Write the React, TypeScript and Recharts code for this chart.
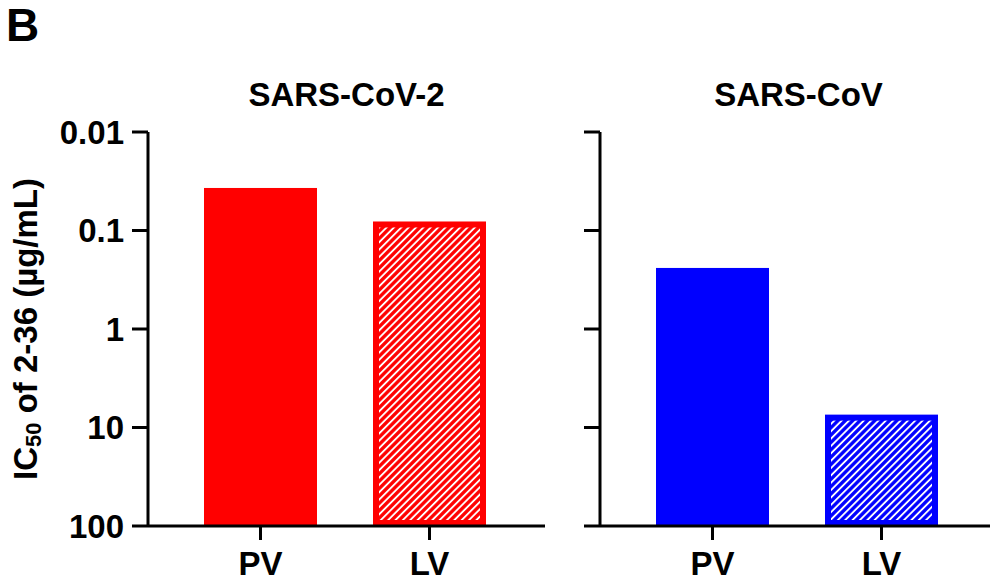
import { BarChart, Bar, XAxis, YAxis, Label } from "recharts";

const categories = ["PV", "LV"];
const hatchedCategories = ["LV"];
const sarsCov2Ic50 = [0.037, 0.081];
const sarsCovIc50 = [0.24, 7.4];
const yTicks = [0.01, 0.1, 1, 10, 100];
const yDomain: [number, number] = [0.01, 100];
const BAR_FLOOR = 100; // bars grow up from the bottom of the reversed log axis

const FONT = "Arial, 'Liberation Sans', Helvetica, sans-serif";
const RED = "#ff0000";
const BLUE = "#0000ff";

const tickStyle = { fill: "#000", fontSize: 33, fontWeight: 700, fontFamily: FONT };

function toRows(values: number[]) {
  return categories.map((name, i) => ({
    name,
    value: values[i],
    hatched: hatchedCategories.includes(name),
  }));
}

function BarShape(props: any) {
  const { x, y, width, height, color, payload } = props;
  const top = Math.min(y, y + height);
  const h = Math.abs(height);
  if (!payload.hatched) {
    return <rect x={x} y={top} width={width} height={h} fill={color} />;
  }
  const id = `hatch-${color.replace("#", "")}`;
  const inset = 6;
  const step = 5.2;
  return (
    <g>
      <defs>
        <pattern
          id={id}
          patternUnits="userSpaceOnUse"
          width={step}
          height={step}
          patternTransform="rotate(45)"
        >
          <rect width={step} height={step} fill={color} />
          <line x1={step / 2} y1={0} x2={step / 2} y2={step} stroke="#fff" strokeWidth={1.9} />
        </pattern>
      </defs>
      <rect x={x} y={top} width={width} height={h} fill={color} />
      <rect
        x={x + inset}
        y={top + inset}
        width={width - inset * 2}
        height={h - inset * 2}
        fill={`url(#${id})`}
      />
    </g>
  );
}

function YTitle(props: any) {
  const { viewBox } = props;
  const cx = 25;
  const cy = viewBox.y + viewBox.height / 2;
  return (
    <text
      x={cx}
      y={cy}
      transform={`rotate(-90, ${cx}, ${cy})`}
      textAnchor="middle"
      dominantBaseline="central"
      fontFamily={FONT}
      fontWeight={700}
      fontSize={33}
      fill="#000"
    >
      IC
      <tspan fontSize={22} dy={8}>
        50
      </tspan>
      <tspan dy={-8}> of 2-36 (µg/mL)</tspan>
    </text>
  );
}

function Panel({
  values,
  color,
  width,
  yAxisWidth,
  showYLabels,
}: {
  values: number[];
  color: string;
  width: number;
  yAxisWidth: number;
  showYLabels: boolean;
}) {
  return (
    <BarChart
      width={width}
      height={587}
      data={toRows(values)}
      margin={{ top: 132, right: width - yAxisWidth - 397, bottom: 0, left: 0 }}
    >
      <XAxis
        dataKey="name"
        height={61}
        padding={{ left: 28, right: 31 }}
        axisLine={{ stroke: "#000", strokeWidth: 3 }}
        tickLine={{ stroke: "#000", strokeWidth: 3 }}
        tickSize={14}
        tickMargin={12}
        tick={tickStyle}
      />
      <YAxis
        type="number"
        scale="log"
        domain={yDomain}
        ticks={yTicks}
        reversed
        allowDataOverflow
        width={yAxisWidth}
        axisLine={{ stroke: "#000", strokeWidth: 3 }}
        tickLine={{ stroke: "#000", strokeWidth: 3 }}
        tickSize={16}
        tickMargin={8}
        tick={tickStyle}
        tickFormatter={(v: number) => (showYLabels ? String(v) : "")}
      >
        {showYLabels && <Label content={<YTitle />} />}
      </YAxis>
      <Bar
        dataKey={(d: any) => [BAR_FLOOR, d.value]}
        barSize={113}
        isAnimationActive={false}
        shape={(p: any) => <BarShape {...p} color={color} />}
      />
    </BarChart>
  );
}

const titleStyle: React.CSSProperties = {
  position: "absolute",
  top: 76,
  width: 397,
  textAlign: "center",
  fontFamily: FONT,
  fontWeight: 700,
  fontSize: 33,
  lineHeight: "38px",
};

export default function App() {
  return (
    <div
      style={{
        position: "relative",
        width: 998,
        height: 587,
        margin: -8,
        background: "#fff",
        fontFamily: FONT,
      }}
    >
      <div
        style={{
          position: "absolute",
          left: 6,
          top: 0,
          fontFamily: FONT,
          fontWeight: 700,
          fontSize: 46,
          lineHeight: "50px",
        }}
      >
        B
      </div>
      <div style={{ ...titleStyle, left: 148 }}>SARS-CoV-2</div>
      <div style={{ ...titleStyle, left: 600 }}>SARS-CoV</div>
      <div style={{ position: "absolute", left: 0, top: 0 }}>
        <Panel values={sarsCov2Ic50} color={RED} width={560} yAxisWidth={148} showYLabels />
      </div>
      <div style={{ position: "absolute", left: 560, top: 0 }}>
        <Panel values={sarsCovIc50} color={BLUE} width={438} yAxisWidth={40} showYLabels={false} />
      </div>
    </div>
  );
}
